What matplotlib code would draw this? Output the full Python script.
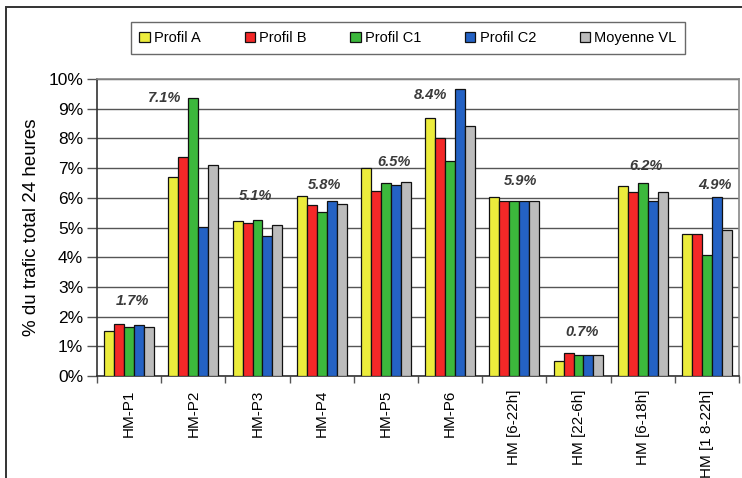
import matplotlib
matplotlib.use("Agg")
import matplotlib.pyplot as plt
from matplotlib.patches import Rectangle
from matplotlib.ticker import FixedLocator, FuncFormatter
import numpy as np

plt.rcParams['font.family'] = ['Liberation Sans', 'DejaVu Sans']

categories = ["HM-P1", "HM-P2", "HM-P3", "HM-P4", "HM-P5", "HM-P6",
              "HM [6-22h]", "HM [22-6h]", "HM [6-18h]", "HM [1 8-22h]"]
series_names = ["Profil A", "Profil B", "Profil C1", "Profil C2", "Moyenne VL"]

profil_a = [1.50, 6.70, 5.21, 6.07, 6.99, 8.70, 6.02, 0.49, 6.41, 4.79]
profil_b = [1.75, 7.38, 5.16, 5.75, 6.24, 8.01, 5.90, 0.78, 6.18, 4.79]
profil_c1 = [1.64, 9.35, 5.24, 5.53, 6.49, 7.25, 5.90, 0.71, 6.49, 4.09]
profil_c2 = [1.72, 5.03, 4.72, 5.90, 6.42, 9.67, 5.90, 0.71, 5.90, 6.04]
moyenne_vl = [1.64, 7.12, 5.10, 5.80, 6.54, 8.41, 5.90, 0.71, 6.18, 4.90]

group_labels = ["1.7%", "7.1%", "5.1%", "5.8%", "6.5%", "8.4%", "5.9%", "0.7%", "6.2%", "4.9%"]

# label placement (layout only)
label_dx = [0.06, -0.44, -0.03, 0.05, 0.13, -0.30, 0.09, 0.05, 0.05, 0.13]
label_y = [2.54, 9.35, 6.06, 6.43, 7.20, 9.47, 6.57, 1.47, 7.08, 6.43]

colors = ["#ecec3c", "#f42828", "#3cb83c", "#2462c4", "#bcbcbc"]

fig = plt.figure(figsize=(7.42, 4.78), dpi=100)
W, H = 742, 478
ax = fig.add_axes([97 / W, 1 - 376 / H, (739 - 97) / W, (376 - 79) / H])

# outer frame
fig.patches.append(Rectangle((6 / W, -0.1), 1.2, 1 - 7 / H + 0.1, transform=fig.transFigure,
                             fill=False, edgecolor="#333333", linewidth=1.4))

x = np.arange(len(categories))
bw = 0.155
all_series = [profil_a, profil_b, profil_c1, profil_c2, moyenne_vl]
for i, (vals, name, c) in enumerate(zip(all_series, series_names, colors)):
    ax.bar(x + (i - 2) * bw, vals, width=bw, color=c, edgecolor="#111111",
           linewidth=0.9, label=name, zorder=3)

for xi, dx, y, t in zip(x, label_dx, label_y, group_labels):
    ax.text(xi + dx, y, t, ha="center", va="center", fontsize=10.5,
            style="italic", fontweight="bold", color="#3a3a3a", zorder=4)

ax.set_xlim(-0.5, len(categories) - 0.5)
ax.set_ylim(0, 10)
ax.yaxis.set_major_locator(FixedLocator(np.arange(0, 11, 1)))
ax.yaxis.set_major_formatter(FuncFormatter(lambda v, p: f"{int(round(v))}%"))
ax.tick_params(axis="y", direction="out", length=7, width=1, color="#555555",
               labelsize=12.5, pad=3)
ax.grid(axis="y", color="#555555", linewidth=1, zorder=0)
ax.set_axisbelow(True)

ax.set_xticks(x)
ax.set_xticklabels(categories, rotation=90, va="top", ha="center", fontsize=11)
ax.xaxis.set_minor_locator(FixedLocator(np.arange(-0.5, len(categories), 1)))
ax.tick_params(axis="x", which="major", length=0, pad=10)
ax.tick_params(axis="x", which="minor", length=5, width=1, color="#555555", direction="out")

ax.set_ylabel("% du trafic total 24 heures", fontsize=13.5, labelpad=6)

for s in ["left", "bottom"]:
    ax.spines[s].set_color("#333333")
    ax.spines[s].set_linewidth(1.2)
for s in ["top", "right"]:
    ax.spines[s].set_color("#888888")
    ax.spines[s].set_linewidth(1.2)

leg = fig.legend(loc="center", bbox_to_anchor=(408 / W, 1 - 38 / H), ncol=5,
                 fontsize=10.5, frameon=True, fancybox=False, edgecolor="#444444",
                 handlelength=0.7, handleheight=0.7, handletextpad=0.3,
                 columnspacing=3.0, borderpad=0.6, borderaxespad=0)
leg.get_frame().set_linewidth(1.0)

fig.savefig("out.png", dpi=100)
